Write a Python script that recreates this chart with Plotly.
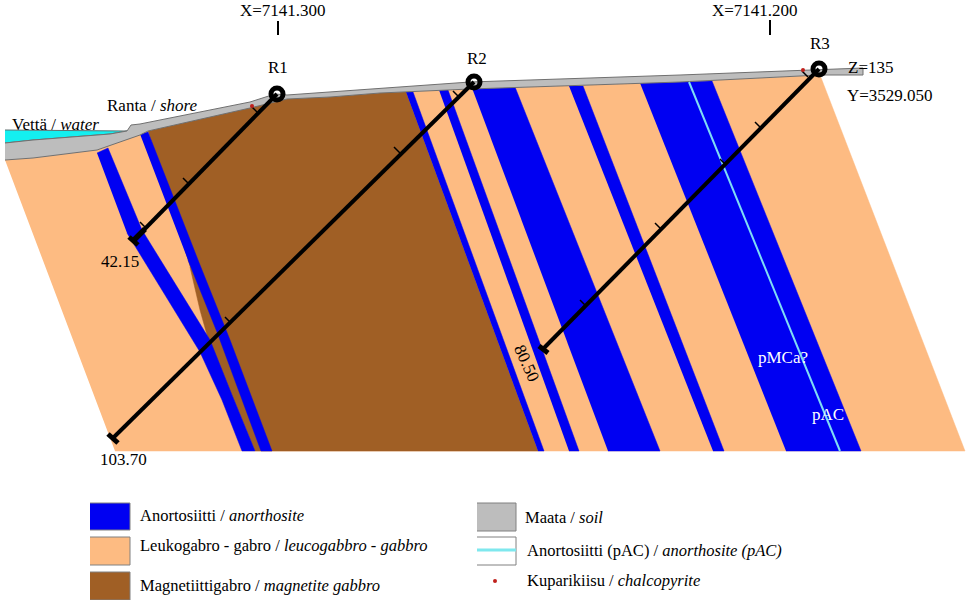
import plotly.graph_objects as go

# Colours
BLUE = '#0000f2'
PEACH = '#fdbb82'
BROWN = '#a05f25'
SOIL = '#bdbdbd'
WATER = '#14eff0'
PAC = '#7fdcf5'
FONT = 'Liberation Serif'

# Section outlines
peach_x = [5, 33, 97, 148, 250, 287, 330, 380, 470, 680, 820, 965, 115]
peach_y = [160, 158, 150, 131, 108, 99, 97, 93, 89, 82, 75, 451, 451]
brown_x = [148, 250, 287, 330, 380, 406, 538, 255, 207, 200, 190]
brown_y = [131, 108, 99, 97, 93, 92, 451, 451, 335, 310, 267]
soil_x = [5, 33, 110, 127, 131, 140, 250, 275, 287, 330, 380, 470, 680, 810, 863, 863, 820, 680, 470, 380, 330, 287, 250, 148, 140, 97, 33, 5]
soil_y = [143, 140, 134, 131, 125, 124, 102, 94, 95, 92, 88, 82, 75, 70, 68, 75, 75, 82, 89, 93, 97, 99, 108, 131, 135, 150, 158, 160]
water_x = [5, 127, 110, 33, 5]
water_y = [130, 131, 134, 140, 143]

# Anorthosite bands
band_a_x = [97, 108, 142, 210, 232, 255, 242, 222, 200, 127]
band_a_y = [153, 148, 230, 340, 395, 451, 451, 400, 352, 233]
band_b_x = [140, 148, 198, 230, 272, 261, 217, 188]
band_b_y = [134, 132, 260, 340, 451, 451, 332, 260]
band_c_x = [406, 413, 544, 538]
band_c_y = [92, 92, 451, 451]
band_d_x = [439, 448, 579, 569]
band_d_y = [90, 90, 451, 451]
band_e_x = [472, 515, 660, 608]
band_e_y = [88, 87, 451, 451]
band_f_x = [569, 583, 724, 713]
band_f_y = [86, 86, 451, 451]
band_g_x = [640, 712, 861, 786]
band_g_y = [83, 81, 451, 451]
pac_x = [689, 840]
pac_y = [82, 451]

# Drill holes
r1_x = [277, 133]
r1_y = [94, 241]
r1_heavy_x = [133, 145]
r1_heavy_y = [241, 229]
r2_x = [474, 113]
r2_y = [82, 438]
r3_x = [819, 543]
r3_y = [69, 349]
hole_top_x = [277, 474, 819]
hole_top_y = [94, 82, 69]
cap_x = [129, 138, None, 108, 118, None, 539, 548]
cap_y = [237, 245, None, 434, 443, None, 346, 353]
tick_x = [183, 189, None, 140, 146, None, 251, 257, None, 394, 400, None, 225, 231, None, 453, 459, None,
          755, 761, None, 720, 726, None, 655, 661, None, 580, 586, None, 802, 808]
tick_y = [178, 184, None, 222, 228, None, 106, 112, None, 147, 153, None, 317, 323, None, 91, 97, None,
          122, 128, None, 159, 165, None, 223, 229, None, 300, 306, None, 71, 77]
copper_x = [252, 803]
copper_y = [106, 70]
mark_x = [278, 770]
mark_y = [21, 20]
mark_end_y = [35, 35]

# Legend swatches
swatch_left = [90, 90, 90, 477]
swatch_right = [130, 130, 130, 516]
swatch_top = [503, 537, 572, 503]
swatch_bottom = [530, 565, 600, 531]
swatch_fill = [BLUE, PEACH, BROWN, SOIL]

labels = ['X=7141.300', 'X=7141.200', 'Z=135', 'Y=3529.050',
          'Ranta / <i>shore</i>', 'Vettä / <i>water</i>', '42.15', '103.70']
label_x = [238, 710, 846, 845, 105, 10, 99, 98]
label_y = [10, 10, 67, 95, 105, 124, 261, 459]

hole_names = ['R1', 'R2', 'R3']
hole_name_x = [278, 477, 820]
hole_name_y = [67, 58, 43]

legend_labels = ['Anortosiitti / <i>anorthosite</i>',
                 'Leukogabro - gabro / <i>leucogabbro - gabbro</i>',
                 'Magnetiittigabro / <i>magnetite gabbro</i>',
                 'Maata / <i>soil</i>',
                 'Anortosiitti (pAC) / <i>anorthosite (pAC)</i>',
                 'Kuparikiisu / <i>chalcopyrite</i>']
legend_x = [138, 138, 138, 523, 525, 525]
legend_y = [515, 545, 585, 517, 550, 580]


def area(fig, x, y, colour, line=None):
    fig.add_trace(go.Scatter(x=x, y=y, mode='lines', fill='toself', fillcolor=colour,
                             line=dict(color=line or colour, width=1 if line else 0.5),
                             hoverinfo='skip'))


def stroke(fig, x, y, colour='black', width=4):
    fig.add_trace(go.Scatter(x=x, y=y, mode='lines', line=dict(color=colour, width=width),
                             hoverinfo='skip'))


fig = go.Figure()

# Geology, back to front
area(fig, water_x, water_y, WATER, '#607070')
area(fig, peach_x, peach_y, PEACH)
area(fig, brown_x, brown_y, BROWN)
for bx, by in [(band_a_x, band_a_y), (band_b_x, band_b_y), (band_c_x, band_c_y), (band_d_x, band_d_y),
               (band_e_x, band_e_y), (band_f_x, band_f_y), (band_g_x, band_g_y)]:
    area(fig, bx, by, BLUE)
area(fig, soil_x, soil_y, SOIL, '#707070')
stroke(fig, pac_x, pac_y, PAC, 2)

# Holes
stroke(fig, r1_x, r1_y)
stroke(fig, r1_heavy_x, r1_heavy_y, width=5.5)
stroke(fig, r2_x, r2_y)
stroke(fig, r3_x, r3_y)
stroke(fig, cap_x, cap_y, width=5)
stroke(fig, tick_x, tick_y, width=1.5)
fig.add_trace(go.Scatter(x=hole_top_x, y=hole_top_y, mode='markers', hoverinfo='skip',
                         marker=dict(symbol='circle-open', size=12, color='black', line=dict(color='black', width=5))))
fig.add_trace(go.Scatter(x=copper_x, y=copper_y, mode='markers', hoverinfo='skip',
                         marker=dict(size=4, color='#c0201c')))
for mx, top, end in zip(mark_x, mark_y, mark_end_y):
    stroke(fig, [mx, mx], [top, end], width=2)

# Legend
for left, right, top, bottom, colour in zip(swatch_left, swatch_right, swatch_top, swatch_bottom, swatch_fill):
    area(fig, [left, right, right, left], [top, top, bottom, bottom], colour, '#808080')
area(fig, [477, 516, 516, 477], [537, 537, 565, 565], 'white', '#808080')
stroke(fig, [477, 516], [550, 550], '#7fe8ee', 3)
fig.add_trace(go.Scatter(x=[495], y=[581], mode='markers', hoverinfo='skip',
                         marker=dict(size=4, color='#c0201c')))

for text, x, y in zip(labels, label_x, label_y):
    fig.add_annotation(x=x, y=y, text=text, showarrow=False, xanchor='left',
                       font=dict(family=FONT, size=17, color='black'))
for text, x, y in zip(hole_names, hole_name_x, hole_name_y):
    fig.add_annotation(x=x, y=y, text=text, showarrow=False,
                       font=dict(family=FONT, size=17, color='black'))
for text, x, y in zip(legend_labels, legend_x, legend_y):
    fig.add_annotation(x=x, y=y, text=text, showarrow=False, xanchor='left',
                       font=dict(family=FONT, size=16.5, color='black'))
fig.add_annotation(x=527, y=363, text='80.50', showarrow=False, textangle=66,
                   font=dict(family=FONT, size=17, color='black'))
fig.add_annotation(x=783, y=357, text='pMCa?', showarrow=False,
                   font=dict(family=FONT, size=17, color='white'))
fig.add_annotation(x=828, y=414, text='pAC', showarrow=False,
                   font=dict(family=FONT, size=17, color='white'))

fig.update_layout(
    width=973, height=600, showlegend=False,
    margin=dict(l=0, r=0, t=0, b=0),
    paper_bgcolor='white', plot_bgcolor='white',
    xaxis=dict(range=[0, 973], visible=False, fixedrange=True),
    yaxis=dict(range=[600, 0], visible=False, fixedrange=True),
)

# page margin off so the figure sits at the window corner
fig.write_html("out.html", config={'displayModeBar': False}, post_script="document.body.style.margin='0';")
